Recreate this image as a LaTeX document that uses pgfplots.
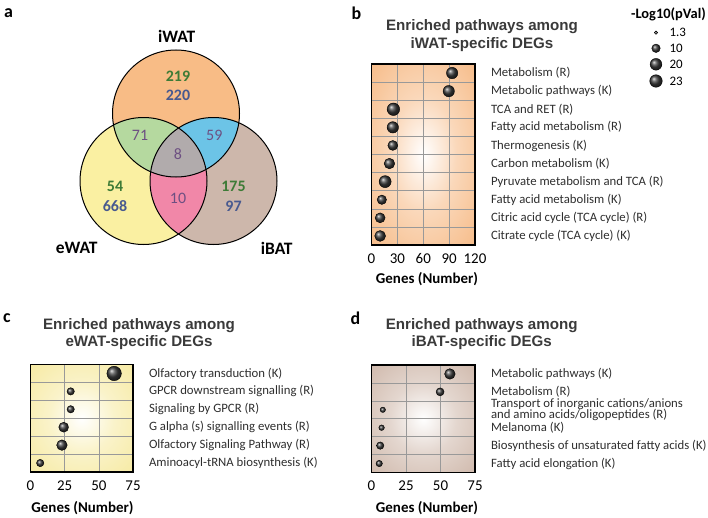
\documentclass[border=0pt]{standalone}
\usepackage{pgfplots}
\pgfplotsset{compat=1.18}
\usepackage{pgfplotstable}
\usetikzlibrary{shadings}
\usepackage{fontspec}
\setmainfont{Carlito}
\newfontfamily\arialfont{Liberation Sans}

\definecolor{bgB}{HTML}{F4A866}
\definecolor{bgC}{HTML}{F4E488}
\definecolor{bgD}{HTML}{C2A594}
\colorlet{bgBm}{bgB!45!white}
\colorlet{bgCm}{bgC!45!white}
\colorlet{bgDm}{bgD!45!white}
\pgfdeclareradialshading{shB}{\pgfpoint{0bp}{0bp}}{color(0bp)=(white); color(16bp)=(bgBm); color(50bp)=(bgB)}
\pgfdeclareradialshading{shC}{\pgfpoint{0bp}{0bp}}{color(0bp)=(white); color(16bp)=(bgCm); color(50bp)=(bgC)}
\pgfdeclareradialshading{shD}{\pgfpoint{0bp}{0bp}}{color(0bp)=(white); color(16bp)=(bgDm); color(50bp)=(bgD)}

\definecolor{iwatC}{HTML}{F8BC86}
\definecolor{ewatC}{HTML}{FAF0A2}
\definecolor{ibatC}{HTML}{CDB7AB}
\definecolor{grC}{HTML}{B5D99F}
\definecolor{blC}{HTML}{6CC4E7}
\definecolor{pkC}{HTML}{F187A8}
\definecolor{gyC}{HTML}{B1ABAC}
\definecolor{numG}{HTML}{3D7B36}
\definecolor{numB}{HTML}{48598F}
\definecolor{numP}{HTML}{6D4F82}
\definecolor{ttl}{HTML}{3A3A3A}
\definecolor{lab}{HTML}{2E2E2E}
\colorlet{ballc}{black!76}

% x = genes, y = row (top = 1), p = -log10(pVal)
\pgfplotstableread{
x y p
93.5 1 18.7
89.6 2 18.7
25.4 3 23
24.7 4 18.7
24.7 5 14
20.8 6 16
15.8 7 21
12.0 8 12.4
10.0 9 14
10.0 10 17
}\tabB
\pgfplotstableread{
x y p
61.2 1 31
29.4 2 7.4
29.4 3 7.4
24.3 4 14
23.0 5 16
7.1 6 7.4
}\tabC
\pgfplotstableread{
x y p
56.8 1 16
49.7 2 8.8
8.2 3 3.7
7.3 4 4
6.3 5 7.4
5.6 6 5.4
}\tabD
\pgfplotstableread{
x y p
656 32.7 1.3
656 48.3 10
656 64.3 20
656 81 23
}\tabL

\pgfplotsset{
  bubbles/.style={scatter, only marks, mark=ball,
    scatter/use mapped color={ball color=ballc},
    visualization depends on={0.3+1.25*sqrt(\thisrow{p}) \as \msize},
    scatter/@pre marker code/.append style={/tikz/mark size=\msize}},
  dotplot/.style={
    scale only axis, anchor=center, clip=false,
    xmin=0, y dir=reverse, ymin=0.5,
    axis line style={line width=1.2bp},
    xmajorgrids, yminorgrids,
    grid style={black!40, line width=0.55bp},
    minor grid style={black!40, line width=0.55bp},
    major tick length=0, minor tick length=0,
    tick style={draw=none},
    yticklabel pos=right,
    yticklabel style={anchor=west, xshift=12.5bp, align=left,
      font=\fontsize{12.8}{10}\selectfont, text=lab},
    xticklabel style={font=\fontsize{15}{15}\selectfont, yshift=-5bp, text=black},
    /pgf/number format/assume math mode=true,
  },
}

\begin{document}
\begin{tikzpicture}[x=1bp,y=1bp]
% ---------- canvas axis: pixel coordinates ----------
\begin{axis}[at={(354bp,259bp)}, anchor=center, scale only axis,
  width=708bp, height=518bp, xmin=0, xmax=708, ymin=0, ymax=518,
  y dir=reverse, hide axis, clip=false]
  % Venn
  \fill[ewatC] (axis cs:143.5,181) circle[radius=63.5];
  \fill[ibatC] (axis cs:213.5,181) circle[radius=63.5];
  \fill[iwatC] (axis cs:176,113.5) circle[radius=63.5];
  \begin{scope}
    \clip (axis cs:176,113.5) circle[radius=63.5];
    \fill[grC] (axis cs:143.5,181) circle[radius=63.5];
    \fill[blC] (axis cs:213.5,181) circle[radius=63.5];
  \end{scope}
  \begin{scope}
    \clip (axis cs:143.5,181) circle[radius=63.5];
    \fill[pkC] (axis cs:213.5,181) circle[radius=63.5];
  \end{scope}
  \begin{scope}
    \clip (axis cs:176,113.5) circle[radius=63.5];
    \clip (axis cs:143.5,181) circle[radius=63.5];
    \fill[gyC] (axis cs:213.5,181) circle[radius=63.5];
  \end{scope}
  \draw[line width=1bp] (axis cs:143.5,181) circle[radius=63.5];
  \draw[line width=1bp] (axis cs:213.5,181) circle[radius=63.5];
  \draw[line width=1bp] (axis cs:176,113.5) circle[radius=63.5];
  \begin{scope}[every node/.style={font=\bfseries\fontsize{16}{16}\selectfont, inner sep=0pt}]
    \node[text=numG] at (axis cs:178,76) {219};
    \node[text=numB] at (axis cs:178,95.5) {220};
    \node[text=numG] at (axis cs:115,186.7) {54};
    \node[text=numB] at (axis cs:115,205.8) {668};
    \node[text=numG] at (axis cs:233.5,186.7) {175};
    \node[text=numB] at (axis cs:233.5,205.8) {97};
  \end{scope}
  \begin{scope}[every node/.style={font=\fontsize{16}{16}\selectfont, inner sep=0pt, text=numP}]
    \node at (axis cs:140,135.5) {71};
    \node at (axis cs:214.3,135.5) {59};
    \node at (axis cs:178,154.5) {8};
    \node at (axis cs:178,198.8) {10};
  \end{scope}
  \begin{scope}[every node/.style={font=\bfseries\fontsize{17.5}{17.5}\selectfont, inner sep=0pt}]
    \node at (axis cs:176.7,36.7) {iWAT};
    \node at (axis cs:76.7,248) {eWAT};
    \node at (axis cs:276.7,248) {iBAT};
  \end{scope}
  % panel letters
  \begin{scope}[every node/.style={font=\bfseries\fontsize{18}{18}\selectfont, inner sep=0pt}]
    \node at (axis cs:8.5,13.5) {a};
    \node at (axis cs:356.5,13.5) {b};
    \node at (axis cs:7,318) {c};
    \node at (axis cs:355.5,318) {d};
  \end{scope}
  % titles
  \begin{scope}[every node/.style={font=\arialfont\bfseries\fontsize{15.2}{17.6}\selectfont, align=center, text=ttl, inner sep=0pt}]
    \node at (axis cs:482,35.5) {Enriched pathways among\\iWAT-specific DEGs};
    \node at (axis cs:139,334) {Enriched pathways among\\eWAT-specific DEGs};
    \node at (axis cs:481.7,334) {Enriched pathways among\\iBAT-specific DEGs};
  \end{scope}
  % x labels
  \begin{scope}[every node/.style={font=\bfseries\fontsize{15}{15}\selectfont, inner sep=0pt}]
    \node at (axis cs:427,279.3) {Genes (Number)};
    \node at (axis cs:82.5,508) {Genes (Number)};
    \node at (axis cs:427,508) {Genes (Number)};
  \end{scope}
  % size legend
  \node[font=\bfseries\fontsize{14.5}{14.5}\selectfont, inner sep=0pt] at (axis cs:668.5,14) {-Log10(pVal)};
  \addplot[bubbles] table[x=x, y=y] {\tabL};
  \begin{scope}[every node/.style={font=\fontsize{13}{13}\selectfont, inner sep=0pt, anchor=west}]
    \node at (axis cs:669.3,32.7) {1.3};
    \node at (axis cs:669.3,48.3) {10};
    \node at (axis cs:669.3,64.3) {20};
    \node at (axis cs:669.3,81) {23};
  \end{scope}
\end{axis}

% ---------- panel b ----------
\begin{axis}[dotplot, at={(423.25bp,363.5bp)}, width=103.5bp, height=181bp,
  xmax=120, ymax=10.5, xtick={0,30,60,90,120},
  ytick={1,...,10}, minor ytick={1.5,2.5,...,9.5},
  yticklabels={Metabolism (R), Metabolic pathways (K), TCA and RET (R),
    Fatty acid metabolism (R), Thermogenesis (K), Carbon metabolism (K),
    Pyruvate metabolism and TCA (R), Fatty acid metabolism (K),
    Citric acid cycle (TCA cycle) (R), Citrate cycle (TCA cycle) (K)},
  axis background/.style={shading=shB}]
  \addplot[bubbles] table[x=x, y=y] {\tabB};
\end{axis}

% ---------- panel c ----------
\begin{axis}[dotplot, at={(81.75bp,99.75bp)}, width=102.5bp, height=107.5bp,
  xmax=75, ymax=6.5, xtick={0,25,50,75},
  ytick={1,...,6}, minor ytick={1.5,2.5,...,5.5},
  yticklabels={Olfactory transduction (K), GPCR downstream signalling (R),
    Signaling by GPCR (R), G alpha (s) signalling events (R),
    Olfactory Signaling Pathway (R), Aminoacyl-tRNA biosynthesis (K)},
  axis background/.style={shading=shC}]
  \addplot[bubbles] table[x=x, y=y] {\tabC};
\end{axis}

% ---------- panel d ----------
\begin{axis}[dotplot, at={(423.25bp,99.25bp)}, width=103.5bp, height=107.5bp,
  xmax=75, ymax=6.5, xtick={0,25,50,75},
  ytick={1,...,6}, minor ytick={1.5,2.5,...,5.5},
  yticklabels={Metabolic pathways (K), Metabolism (R),
    {Transport of inorganic cations/anions\\[-2bp]and amino acids/oligopeptides (R)},
    Melanoma (K), Biosynthesis of unsaturated fatty acids (K),
    Fatty acid elongation (K)},
  axis background/.style={shading=shD}]
  \addplot[bubbles] table[x=x, y=y] {\tabD};
\end{axis}

\pgfresetboundingbox
\path (0,0) rectangle (708bp,518bp);
\end{tikzpicture}
\end{document}
